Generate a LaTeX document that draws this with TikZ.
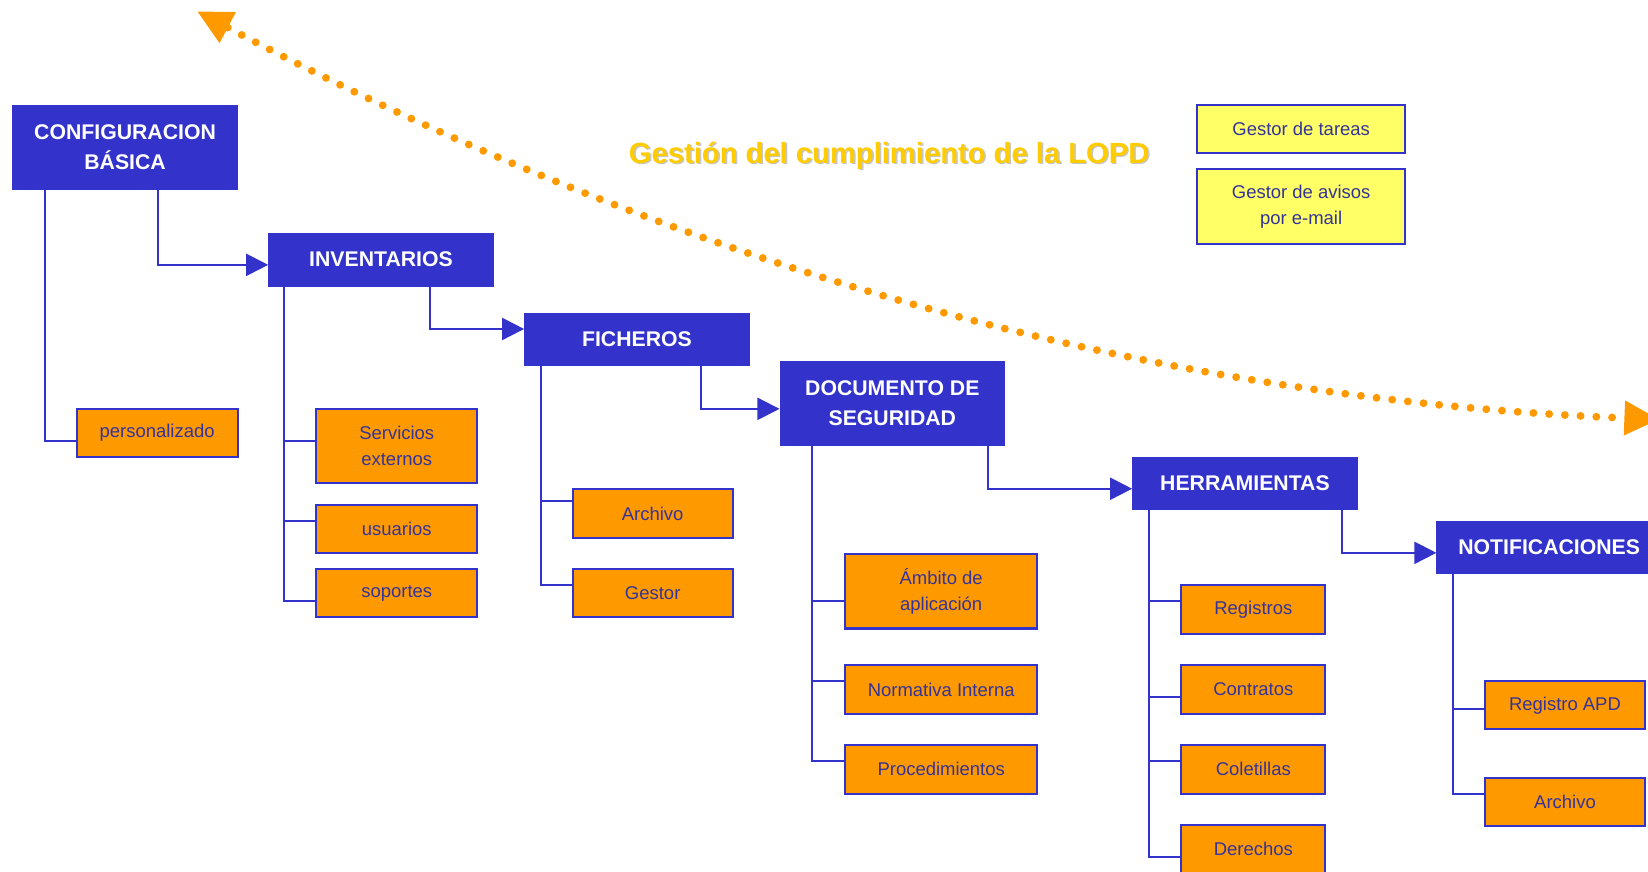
\documentclass[tikz,border=0pt]{standalone}
\usepackage{fontspec}
\setmainfont{Liberation Sans}
\usetikzlibrary{arrows.meta}
\definecolor{azul}{HTML}{3333CC}
\definecolor{azuloscuro}{HTML}{333399}
\definecolor{naranja}{HTML}{FF9900}
\definecolor{amarillo}{HTML}{FFFF66}
\definecolor{oro}{HTML}{FFCC00}

\begin{document}
\begin{tikzpicture}[x=0.02cm,y=-0.02cm]
    \tikzstyle{stage}=[fill=azul,draw=azul,text=white,font=\fontsize{11.5}{15.9}\selectfont\bfseries,align=center,minimum width=4.28cm,minimum height=1cm,inner sep=0pt]
    \tikzstyle{leaf}=[fill=naranja,draw=azul,line width=1.1pt,text=azuloscuro,font=\fontsize{10}{14.2}\selectfont,align=center,minimum height=0.92cm,inner sep=0pt]
    \tikzstyle{note}=[leaf,fill=amarillo,minimum width=3.96cm]
    \tikzstyle{branch}=[draw=azul,line width=1.1pt]
    \tikzstyle{next}=[branch,-{Triangle[length=0.42cm,width=0.42cm]}]
    \tikzstyle{flow}=[draw=naranja,line width=0.15cm,line cap=round,dash pattern=on 0pt off 0.3cm]

    \useasboundingbox (0,0) rectangle (1568,829);
    \clip (0,0) rectangle (1568,829);

    \node[stage,minimum height=1.6cm] at (119,140) (cfg) {CONFIGURACION\\BÁSICA};
    \node[stage] at (362.5,247) (inv) {INVENTARIOS};
    \node[stage] at (606,323) (fich) {FICHEROS};
    \node[stage,minimum height=1.6cm] at (849,383.5) (doc) {DOCUMENTO DE\\SEGURIDAD};
    \node[stage] at (1184.5,460) (herr) {HERRAMIENTAS};
    \node[stage] at (1474,521) (notif) {NOTIFICACIONES};

    \node[leaf,minimum width=3.06cm] at (149.5,412) (pers) {personalizado};

    \node[leaf,minimum width=3.06cm,minimum height=1.42cm] at (377.5,424.5) (serv) {Servicios\\externos};
    \node[leaf,minimum width=3.06cm] at (377.5,503.5) (usu) {usuarios};
    \node[leaf,minimum width=3.06cm] at (377.5,564.5) (sop) {soportes};

    \node[leaf,minimum width=3.04cm] at (621,488.5) (farch) {Archivo};
    \node[leaf,minimum width=3.04cm] at (621,564.5) (gest) {Gestor};

    \node[leaf,minimum width=3.66cm,minimum height=1.42cm] at (895.5,562.5) (amb) {Ámbito de\\aplicación};
    \node[leaf,minimum width=3.66cm] at (895.5,656) (norm) {Normativa Interna};
    \node[leaf,minimum width=3.66cm] at (895.5,732) (proc) {Procedimientos};

    \node[leaf,minimum width=2.74cm] at (1192.5,580) (reg) {Registros};
    \node[leaf,minimum width=2.74cm] at (1192.5,656) (cont) {Contratos};
    \node[leaf,minimum width=2.74cm] at (1192.5,732) (colet) {Coletillas};
    \node[leaf,minimum width=2.74cm] at (1192.5,808) (derech) {Derechos};

    \node[leaf,minimum width=3.04cm] at (1489,671) (rapd) {Registro APD};
    \node[leaf,minimum width=3.04cm] at (1489,763) (narch) {Archivo};

    \node[note] at (1238,123) (tareas) {Gestor de tareas};
    \node[note,minimum height=1.42cm] at (1238,196.5) (avisos) {Gestor de avisos\\por e-mail};

    \node[text=gray!45,font=\fontsize{15.8}{19}\selectfont\bfseries] at (847.5,149.5) (sombra) {Gestión del cumplimiento de la LOPD};
    \node[text=oro,font=\fontsize{15.8}{19}\selectfont\bfseries] at (846,148) (titulo) {Gestión del cumplimiento de la LOPD};

    \draw[branch] ([xshift=0.62cm]cfg.south west) |- ([yshift=-0.16cm]pers.west);
    \draw[next] ([xshift=-1.52cm]cfg.south east) |- ([yshift=-0.1cm]inv.west);

    \draw[branch] ([xshift=0.3cm]inv.south west) |- ([yshift=0.09cm]serv.west);
    \draw[branch] ([xshift=0.3cm]inv.south west) |- ([yshift=0.15cm]usu.west);
    \draw[branch] ([xshift=0.3cm]inv.south west) |- ([yshift=-0.15cm]sop.west);
    \draw[next] ([xshift=-1.22cm]inv.south east) |- ([yshift=0.2cm]fich.west);

    \draw[branch] ([xshift=0.32cm]fich.south west) |- ([yshift=0.23cm]farch.west);
    \draw[branch] ([xshift=0.32cm]fich.south west) |- ([yshift=0.15cm]gest.west);
    \draw[next] ([xshift=-0.92cm]fich.south east) |- ([yshift=-0.11cm]doc.west);

    \draw[branch] ([xshift=0.62cm]doc.south west) |- ([yshift=-0.19cm]amb.west);
    \draw[branch] ([xshift=0.62cm]doc.south west) |- ([yshift=0.16cm]norm.west);
    \draw[branch] ([xshift=0.62cm]doc.south west) |- ([yshift=0.16cm]proc.west);
    \draw[next] ([xshift=-0.32cm]doc.south east) |- ([yshift=-0.1cm]herr.west);

    \draw[branch] ([xshift=0.32cm]herr.south west) |- ([yshift=0.16cm]reg.west);
    \draw[branch] ([xshift=0.32cm]herr.south west) |- ([yshift=-0.14cm]cont.west);
    \draw[branch] ([xshift=0.32cm]herr.south west) |- ([yshift=0.16cm]colet.west);
    \draw[branch] ([xshift=0.32cm]herr.south west) |- ([yshift=-0.14cm]derech.west);
    \draw[next] ([xshift=-0.3cm]herr.south east) |- ([yshift=-0.1cm]notif.west);

    \draw[branch] ([xshift=0.32cm]notif.south west) |- ([yshift=-0.08cm]rapd.west);
    \draw[branch] ([xshift=0.32cm]notif.south west) |- ([yshift=0.16cm]narch.west);

    % flecha punteada
    \coordinate (flowstart) at (188,11);
    \coordinate (flowend) at (1578,399);
    \draw[flow,{Triangle[length=0.65cm,width=0.67cm,line width=0pt]}-{Triangle[length=0.65cm,width=0.67cm,line width=0pt]}] (flowstart) .. controls (629.5,245.5) and (1078,379) .. (flowend);
\end{tikzpicture}
\end{document}
